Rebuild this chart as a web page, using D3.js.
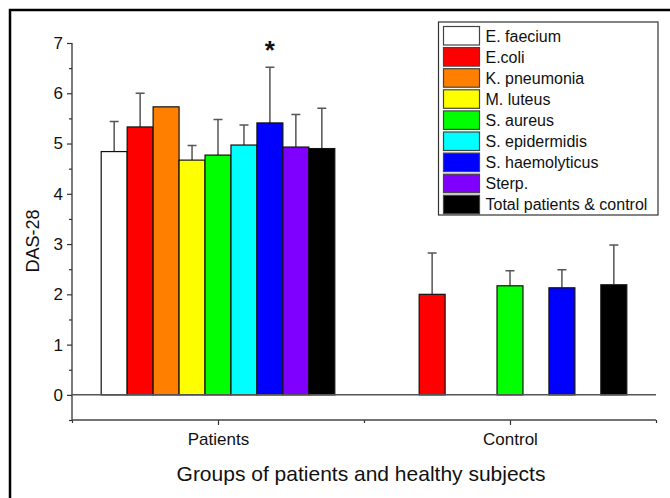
<!DOCTYPE html>
<html>
<head>
<meta charset="utf-8">
<script src="https://cdn.jsdelivr.net/npm/d3@7"></script>
<style>
  body { margin: 0; background: #fff; }
  svg text { font-family: Arial, "Liberation Sans", sans-serif; fill: #111; }
</style>
</head>
<body>
<div id="chart"></div>
<script>
// chart data
const groups = ["Patients", "Control"];
const series = ["E. faecium", "E.coli", "K. pneumonia", "M. luteus", "S. aureus",
    "S. epidermidis", "S. haemolyticus", "Sterp.", "Total patients & control"];
const colors = ["#ffffff", "#ff0000", "#ff8000", "#ffff00", "#00ff00",
    "#00ffff", "#0000ff", "#8000ff", "#000000"];
const patientsMean = [4.84, 5.33, 5.73, 4.67, 4.77, 4.97, 5.41, 4.93, 4.90];
const patientsErr = [0.60, 0.67, null, 0.29, 0.71, 0.40, 1.11, 0.65, 0.80];
const controlMean = [null, 2.00, null, null, 2.17, null, 2.13, null, 2.19];
const controlErr = [null, 0.82, null, null, 0.30, null, 0.36, null, 0.79];
const yTicks = [0, 1, 2, 3, 4, 5, 6, 7];

const W = 670, H = 498;
const plot = { left: 72, right: 656, top: 43, bottom: 420 };

const svg = d3.select("#chart").append("svg")
    .attr("width", W)
    .attr("height", H);

// outer frame (runs off the right and bottom edges)
svg.append("rect")
    .attr("x", 10).attr("y", 10)
    .attr("width", 700).attr("height", 520)
    .attr("fill", "none")
    .attr("stroke", "#000")
    .attr("stroke-width", 2.5);

const x = d3.scaleLinear().domain([0.5, 2.5]).range([plot.left, plot.right]);
const y = d3.scaleLinear().domain([-0.5, 7]).range([plot.bottom, plot.top]);

const step = x(2) - x(1);
const band = d3.scaleBand().domain(series).range([-0.4 * step, 0.4 * step]).padding(0);

const rows = [];
groups.forEach((g, gi) => {
    const means = gi === 0 ? patientsMean : controlMean;
    const errs = gi === 0 ? patientsErr : controlErr;
    series.forEach((s, i) => {
        if (means[i] == null) return;
        rows.push({ group: gi + 1, name: s, color: colors[i], mean: means[i], err: errs[i] });
    });
});

// y axis
const yAxis = svg.append("g")
    .attr("transform", `translate(${plot.left},0)`)
    .call(d3.axisLeft(y).tickValues(yTicks).tickSize(5).tickPadding(4).tickFormat(d3.format("d")));
yAxis.select(".domain").remove();
yAxis.selectAll("text").attr("font-size", 17);
yAxis.selectAll("line").attr("stroke", "#333").attr("stroke-width", 1.2);

svg.append("g")
    .attr("transform", `translate(${plot.left},0)`)
    .call(d3.axisLeft(y).tickValues(d3.range(-0.5, 7.01, 1)).tickSize(3).tickFormat(""))
    .call(g => g.select(".domain").remove())
    .selectAll("line").attr("stroke", "#333").attr("stroke-width", 1.2);

svg.append("line")
    .attr("x1", plot.left).attr("x2", plot.left)
    .attr("y1", y(7)).attr("y2", y(-0.5))
    .attr("stroke", "#333").attr("stroke-width", 1.3);

// x axis
const xAxis = svg.append("g")
    .attr("transform", `translate(0,${plot.bottom})`)
    .call(d3.axisBottom(x).tickValues([1, 2]).tickSize(5).tickPadding(8)
        .tickFormat((d, i) => groups[i]));
xAxis.select(".domain").remove();
xAxis.selectAll("text").attr("font-size", 17);
xAxis.selectAll("line").attr("stroke", "#333").attr("stroke-width", 1.2);

svg.append("g")
    .attr("transform", `translate(0,${plot.bottom})`)
    .call(d3.axisBottom(x).tickValues([0.5, 1.5, 2.5]).tickSize(3).tickFormat(""))
    .call(g => g.select(".domain").remove())
    .selectAll("line").attr("stroke", "#333").attr("stroke-width", 1.2);

svg.append("line")
    .attr("x1", plot.left).attr("x2", plot.right)
    .attr("y1", plot.bottom).attr("y2", plot.bottom)
    .attr("stroke", "#444").attr("stroke-width", 1.3);

// error bars (drawn under the bars)
const errRows = rows.filter(d => d.err != null);
const capW = 9;
svg.append("g").selectAll("path")
    .data(errRows)
    .join("path")
    .attr("d", d => {
        const cx = x(d.group) + band(d.name) + band.bandwidth() / 2;
        const top = y(d.mean + d.err);
        return `M${cx},${y(d.mean)}V${top}M${cx - capW / 2},${top}H${cx + capW / 2}`;
    })
    .attr("fill", "none")
    .attr("stroke", "#555")
    .attr("stroke-width", 1.5);

// bars
svg.append("g").selectAll("rect")
    .data(rows)
    .join("rect")
    .attr("x", d => x(d.group) + band(d.name))
    .attr("y", d => y(d.mean))
    .attr("width", band.bandwidth())
    .attr("height", d => y(0) - y(d.mean))
    .attr("fill", d => d.color)
    .attr("stroke", "#111")
    .attr("stroke-width", 1.2);

// zero line
svg.append("line")
    .attr("x1", plot.left).attr("x2", plot.right)
    .attr("y1", y(0)).attr("y2", y(0))
    .attr("stroke", "#555").attr("stroke-width", 1.5);

// significance mark above S. haemolyticus (patients)
svg.append("text")
    .attr("x", x(1) + band("S. haemolyticus") + band.bandwidth() / 2)
    .attr("y", 59)
    .attr("text-anchor", "middle")
    .attr("font-size", 26)
    .attr("font-weight", "bold")
    .text("*");

// axis titles
svg.append("text")
    .attr("x", (plot.left + plot.right) / 2 - 3)
    .attr("y", 481)
    .attr("text-anchor", "middle")
    .attr("font-size", 21)
    .text("Groups of patients and healthy subjects");

svg.append("text")
    .attr("transform", `translate(39,${241}) rotate(-90)`)
    .attr("text-anchor", "middle")
    .attr("font-size", 18)
    .text("DAS-28");

// legend
const legend = { x: 438.5, y: 22, w: 219.5, h: 193, pitch: 21.1 };
svg.append("rect")
    .attr("x", legend.x).attr("y", legend.y)
    .attr("width", legend.w).attr("height", legend.h)
    .attr("fill", "#fff")
    .attr("stroke", "#333")
    .attr("stroke-width", 1.2);

const items = svg.append("g").selectAll("g")
    .data(series)
    .join("g")
    .attr("transform", (d, i) => `translate(${legend.x + 5},${legend.y + 4.5 + i * legend.pitch})`);

items.append("rect")
    .attr("width", 36)
    .attr("height", 18.5)
    .attr("fill", (d, i) => colors[i])
    .attr("stroke", "#444")
    .attr("stroke-width", 1.2);

items.append("text")
    .attr("x", 42)
    .attr("y", 15)
    .attr("font-size", 16)
    .text(d => d);
</script>
</body>
</html>
